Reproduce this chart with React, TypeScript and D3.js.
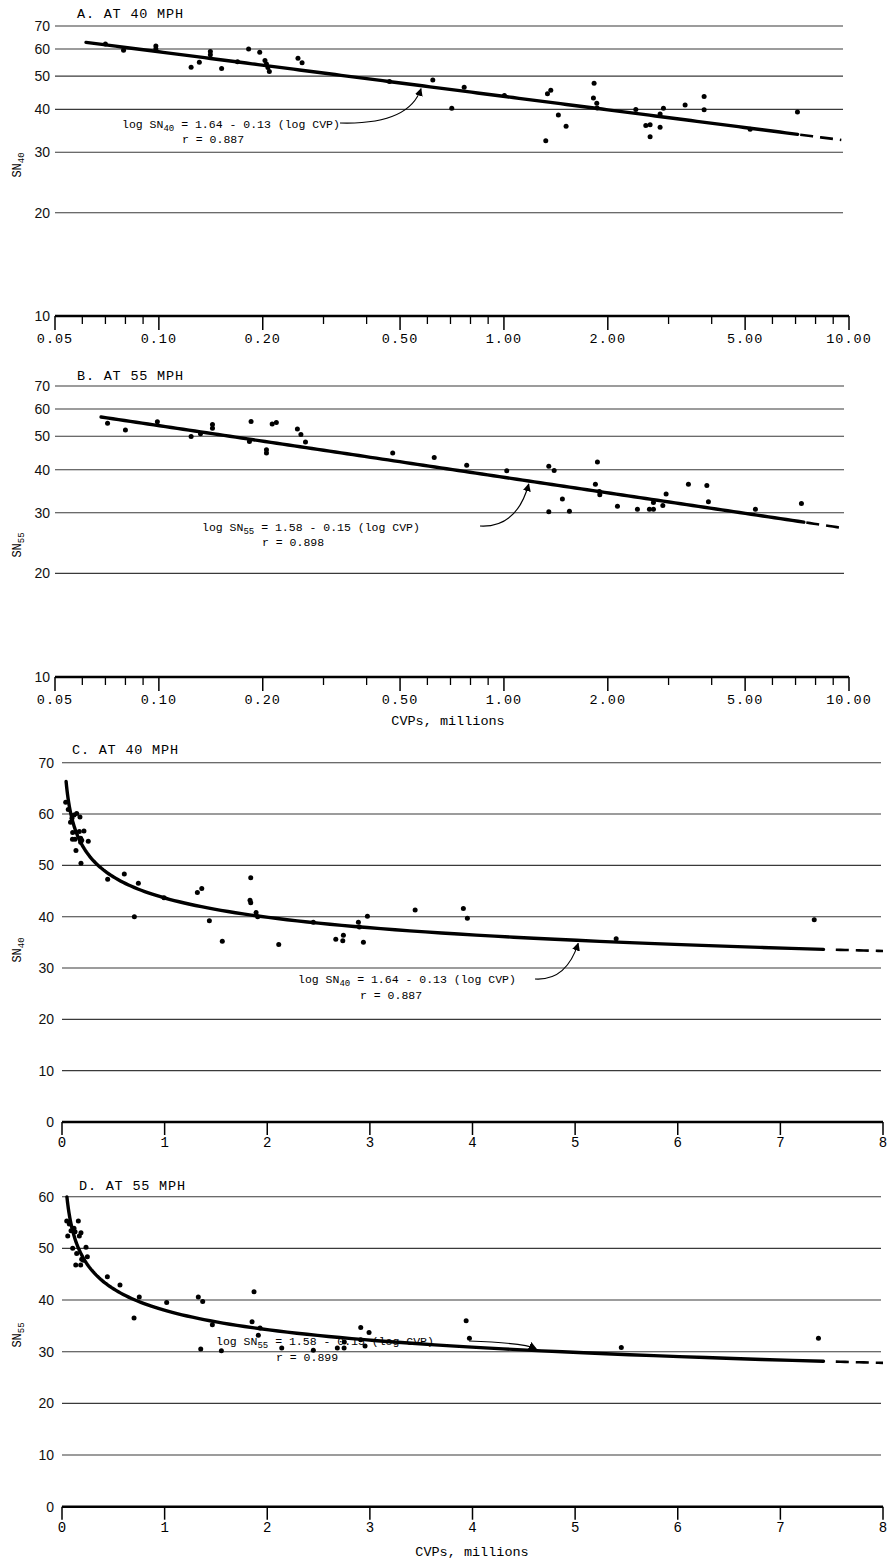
import React from 'react';
import * as d3 from 'd3';

// skid number vs cumulative vehicle passes (millions)
// A and C: 40 mph, B and D: 55 mph (A/B on log-log paper, C/D linear)
const ptsA = [
  [0.070, 62.0], [0.079, 59.5], [0.098, 61.2], [0.098, 60.0], [0.124, 53.1], [0.131, 54.9],
  [0.141, 59.0], [0.141, 57.7], [0.152, 52.6], [0.169, 55.1], [0.182, 60.0], [0.196, 58.7],
  [0.203, 55.5], [0.205, 54.2], [0.207, 53.0], [0.209, 51.6], [0.253, 56.4], [0.260, 54.7],
  [0.466, 48.2], [0.622, 48.7], [0.706, 40.3], [0.767, 46.4], [1.003, 43.9], [1.322, 32.4],
  [1.337, 44.4], [1.367, 45.5], [1.438, 38.5], [1.514, 35.7], [1.825, 47.7], [1.817, 43.2],
  [1.858, 41.7], [1.862, 40.4], [2.411, 40.0], [2.577, 35.9], [2.652, 36.1], [2.652, 33.3],
  [2.835, 38.8], [2.835, 35.5], [2.899, 40.3], [3.350, 41.2], [3.803, 43.6], [3.803, 39.9],
  [5.170, 35.0], [7.090, 39.3],
];
const ptsB = [
  [0.071, 54.6], [0.080, 52.2], [0.099, 55.1], [0.124, 49.9], [0.132, 50.9], [0.143, 54.1],
  [0.143, 52.8], [0.185, 55.2], [0.183, 48.3], [0.205, 45.7], [0.205, 44.7], [0.213, 54.3],
  [0.219, 54.8], [0.252, 52.5], [0.258, 50.6], [0.266, 48.1], [0.476, 44.7], [0.628, 43.4],
  [0.780, 41.2], [1.019, 39.7], [1.349, 40.9], [1.398, 39.8], [1.349, 30.2], [1.477, 32.9],
  [1.548, 30.3], [1.866, 42.1], [1.841, 36.3], [1.891, 34.6], [1.896, 33.8], [2.133, 31.3],
  [2.437, 30.7], [2.640, 30.7], [2.712, 30.7], [2.712, 32.1], [2.887, 31.5], [2.951, 34.0],
  [3.425, 36.3], [3.873, 36.0], [3.914, 32.3], [5.356, 30.7], [7.280, 31.9],
];
const ptsC = [
  [0.036, 62.3], [0.061, 60.9], [0.083, 58.4], [0.097, 59.2], [0.117, 59.8], [0.104, 56.4],
  [0.102, 55.1], [0.127, 55.1], [0.136, 52.9], [0.143, 60.1], [0.175, 59.4], [0.169, 56.6],
  [0.214, 56.7], [0.182, 55.3], [0.192, 54.9], [0.182, 54.5], [0.185, 50.4], [0.256, 54.7],
  [0.445, 47.3], [0.607, 48.3], [0.705, 40.0], [0.744, 46.5], [0.994, 43.7], [1.319, 44.7],
  [1.362, 45.5], [1.436, 39.2], [1.562, 35.2], [1.839, 47.6], [1.832, 43.2], [1.839, 42.7],
  [1.891, 40.8], [1.907, 40.0], [2.112, 34.6], [2.449, 38.9], [2.668, 35.6], [2.736, 35.3],
  [2.742, 36.4], [2.888, 38.9], [2.898, 38.0], [2.937, 35.0], [2.976, 40.1], [3.441, 41.3],
  [3.911, 41.6], [3.950, 39.7], [5.400, 35.7], [7.330, 39.4],
];
const ptsD = [
  [0.046, 55.3], [0.056, 52.4], [0.071, 54.7], [0.088, 53.4], [0.104, 50.0], [0.117, 53.9],
  [0.127, 53.2], [0.134, 46.8], [0.143, 49.0], [0.159, 55.3], [0.169, 52.4], [0.185, 53.0],
  [0.192, 47.9], [0.182, 46.8], [0.208, 47.7], [0.234, 50.2], [0.247, 48.4], [0.442, 44.5],
  [0.565, 42.9], [0.702, 36.5], [0.753, 40.6], [1.020, 39.5], [1.328, 40.6], [1.371, 39.7],
  [1.352, 30.5], [1.465, 35.2], [1.553, 30.2], [1.852, 35.8], [1.871, 41.6], [1.913, 33.2],
  [1.930, 34.6], [2.141, 30.7], [2.449, 30.3], [2.683, 30.7], [2.751, 31.9], [2.749, 30.7],
  [2.911, 34.7], [2.911, 32.3], [2.953, 31.1], [2.992, 33.7], [3.938, 36.0], [3.970, 32.6],
  [5.450, 30.8], [7.371, 32.6],
];

const logMajor = [0.05, 0.1, 0.2, 0.5, 1, 2, 5, 10];
const logMajorLabels = ['0.05', '0.10', '0.20', '0.50', '1.00', '2.00', '5.00', '10.00'];
const logMinor = [0.06, 0.07, 0.08, 0.09, 0.3, 0.4, 0.6, 0.7, 0.8, 0.9, 3, 4, 6, 7, 8, 9];
const logYTicks = [10, 20, 30, 40, 50, 60, 70];
const linXTicks = [0, 1, 2, 3, 4, 5, 6, 7, 8];
const linYTicksC = [0, 10, 20, 30, 40, 50, 60, 70];
const linYTicksD = [0, 10, 20, 30, 40, 50, 60];

// log SN = a + b log CVP
const fit40 = { a: 1.64, b: -0.13 };
const fit55 = { a: 1.58, b: -0.15 };

const MONO = '"Liberation Mono", "DejaVu Sans Mono", monospace';
const SANS = '"Liberation Sans", Arial, sans-serif';

const panels = [
  {
    kind: 'log', pts: ptsA, fit: fit40, sub: '40', r: '0.887', title: 'A.  AT 40 MPH',
    yDom: [10, 70], yRange: [316, 26], yTicks: logYTicks, gridEnd: 843,
    titlePos: [77, 18], yTitleY: 165, from: 0.0615, solidTo: 7.1, dashTo: 9.5,
    eq: [122, 128], rPos: [182, 143], arrowFrom: [340, 123], tip: 0.575, tipOff: 3, xTitle: null,
  },
  {
    kind: 'log', pts: ptsB, fit: fit55, sub: '55', r: '0.898', title: 'B.  AT 55 MPH',
    yDom: [10, 70], yRange: [677, 386], yTicks: logYTicks, gridEnd: 844,
    titlePos: [77, 380], yTitleY: 545, from: 0.068, solidTo: 7.4, dashTo: 9.7,
    eq: [202, 531], rPos: [262, 546], arrowFrom: [480, 526], tip: 1.18, tipOff: 3, xTitle: [448, 725],
  },
  {
    kind: 'lin', pts: ptsC, fit: fit40, sub: '40', r: '0.887', title: 'C.  AT 40 MPH',
    yDom: [0, 70], yRange: [1122, 762.7], yTicks: linYTicksC, gridEnd: 881,
    titlePos: [72, 754], yTitleY: 950, from: 0.04, solidTo: 7.42, dashTo: 8,
    eq: [298, 983], rPos: [360, 999], arrowFrom: [535, 979], tip: 5.03, tipOff: 3, xTitle: null,
  },
  {
    kind: 'lin', pts: ptsD, fit: fit55, sub: '55', r: '0.899', title: 'D.  AT 55 MPH',
    yDom: [0, 60], yRange: [1506.7, 1196.7], yTicks: linYTicksD, gridEnd: 881,
    titlePos: [79, 1190], yTitleY: 1335, from: 0.048, solidTo: 7.42, dashTo: 8,
    eq: [216, 1345], rPos: [276, 1361], arrowFrom: [469, 1341], tip: 4.62, tipOff: -2, xTitle: [472, 1556],
  },
];

function geo(a, b, n) {
  return d3.range(n + 1).map(i => a * Math.pow(b / a, i / n));
}

function Panel({ p }) {
  const isLog = p.kind === 'log';
  const x = isLog
    ? d3.scaleLog().domain([0.05, 10]).range([55, 849])
    : d3.scaleLinear().domain([0, 8]).range([62, 883]);
  const y = isLog
    ? d3.scaleLog().domain(p.yDom).range(p.yRange)
    : d3.scaleLinear().domain(p.yDom).range(p.yRange);
  const x0 = x.range()[0], x1 = x.range()[1];
  const base = y(p.yDom[0]);
  const sn = c => Math.pow(10, p.fit.a + p.fit.b * Math.log10(c));
  const line = d3.line().x(c => x(c)).y(c => y(sn(c)));
  const solid = geo(p.from, p.solidTo, 120);
  const dashed = geo(p.solidTo + 0.12, p.dashTo, 10);
  const tx = x(p.tip), ty = y(sn(p.tip)) + p.tipOff;
  const [ax, ay] = p.arrowFrom;
  const arrowPath = `M${ax},${ay} Q${tx - 12},${ay + 2} ${tx},${ty}`;

  return (
    <g>
      <text x={p.titlePos[0]} y={p.titlePos[1]} fontFamily={MONO} fontSize={13.5} letterSpacing={0.8}>
        {p.title}
      </text>
      {/* grid */}
      {p.yTicks.slice(1).map(t => (
        <line key={'g' + t} x1={x0} x2={p.gridEnd} y1={y(t)} y2={y(t)} stroke="#3a3a3a" strokeWidth={1.1} />
      ))}
      {p.yTicks.map(t => (
        <text key={'yl' + t} x={isLog ? 50 : 54} y={y(t)} dy="0.36em" textAnchor="end"
          fontFamily={SANS} fontSize={14} fill="#111">{t}</text>
      ))}
      {/* x axis */}
      <line x1={x0} x2={x1} y1={base} y2={base} stroke="#000" strokeWidth={2.4} />
      {isLog ? (
        <g>
          {logMinor.map(t => (
            <line key={'mn' + t} x1={x(t)} x2={x(t)} y1={base} y2={base + 8} stroke="#000" strokeWidth={1.3} />
          ))}
          {logMajor.map((t, i) => (
            <g key={'mj' + t}>
              <line x1={x(t)} x2={x(t)} y1={base} y2={base + 14} stroke="#000" strokeWidth={1.5} />
              <text x={x(t)} y={base + 27} textAnchor="middle" fontFamily={MONO} fontSize={13.5}
                letterSpacing={1}>{logMajorLabels[i]}</text>
            </g>
          ))}
        </g>
      ) : (
        <g>
          {linXTicks.map(t => (
            <g key={'lx' + t}>
              <line x1={x(t)} x2={x(t)} y1={base} y2={base + 13} stroke="#000" strokeWidth={1.5} />
              <text x={x(t)} y={base + 25} textAnchor="middle" fontFamily={MONO} fontSize={14}>{t}</text>
            </g>
          ))}
        </g>
      )}
      {p.xTitle && (
        <text x={p.xTitle[0]} y={p.xTitle[1]} textAnchor="middle" fontFamily={MONO} fontSize={13.5}>
          CVPs, millions
        </text>
      )}
      {/* y title */}
      <text transform={`translate(21,${p.yTitleY}) rotate(-90)`} textAnchor="middle" fontFamily={MONO} fontSize={12}>
        SN<tspan dy={3} fontSize={9}>{p.sub}</tspan>
      </text>
      {/* regression */}
      <path d={line(solid)} fill="none" stroke="#000" strokeWidth={3.4} strokeLinecap="round" />
      <path d={line(dashed)} fill="none" stroke="#000" strokeWidth={2.6} strokeDasharray="13 7" />
      {p.pts.map((d, i) => (
        <circle key={'p' + i} cx={x(d[0])} cy={y(d[1])} r={2.5} fill="#000" />
      ))}
      {/* annotation */}
      <text x={p.eq[0]} y={p.eq[1]} fontFamily={MONO} fontSize={11.5}>
        log SN<tspan dy={3} fontSize={9}>{p.sub}</tspan>
        <tspan dy={-3}>{` = ${p.fit.a.toFixed(2)} - ${Math.abs(p.fit.b).toFixed(2)} (log CVP)`}</tspan>
      </text>
      <text x={p.rPos[0]} y={p.rPos[1]} fontFamily={MONO} fontSize={11.5}>{`r = ${p.r}`}</text>
      <path d={arrowPath} fill="none" stroke="#000" strokeWidth={1.1} markerEnd="url(#ahead)" />
    </g>
  );
}

export default function App() {
  return (
    <svg width={891} height={1560} viewBox="0 0 891 1560"
      style={{ position: 'absolute', left: 0, top: 0, background: '#fff' }}>
      <defs>
        <marker id="ahead" viewBox="0 0 10 10" refX={9} refY={5} markerWidth={8} markerHeight={8}
          markerUnits="userSpaceOnUse" orient="auto">
          <path d="M0,0 L10,5 L0,10 z" fill="#000" />
        </marker>
      </defs>
      <rect x={0} y={0} width={891} height={1560} fill="#fff" />
      {panels.map((p, i) => <Panel key={i} p={p} />)}
    </svg>
  );
}
